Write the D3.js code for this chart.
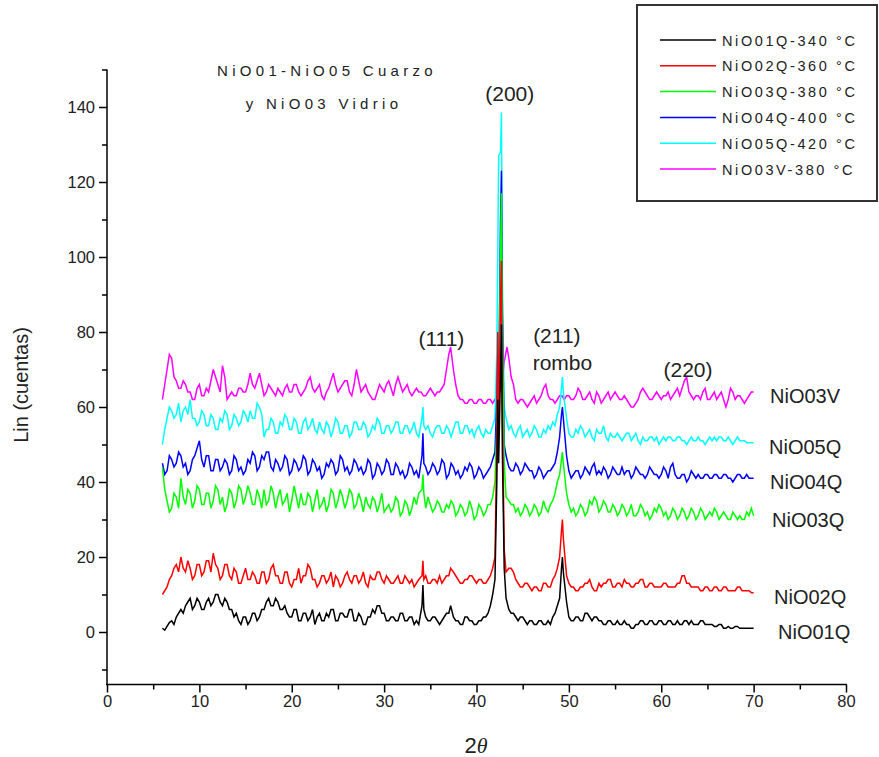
<!DOCTYPE html>
<html>
<head>
<meta charset="utf-8">
<script src="https://cdn.jsdelivr.net/npm/d3@7"></script>
<style>
  body { margin: 0; background: #fff; }
  svg { display: block; }
  text { font-family: "Liberation Sans", Arial, sans-serif; fill: #222; }
</style>
</head>
<body>
<svg id="chart" width="879" height="757"></svg>
<script>
// ---- Diffractogram data: counts sampled every 0.25° of 2θ from 6° to 70° ----
const thetaStart = 6;
const thetaStep = 0.25;

const nio01Q = [
  1, 0.5, 1.5, 2.5, 3, 2, 4, 5, 6, 5, 7, 8, 9, 6, 7, 9, 8, 6, 6, 8,
  9, 7, 8, 10, 10, 8, 7, 9, 8, 6, 6, 4, 5, 3, 2, 4, 4, 2, 3, 5,
  5, 3, 4, 6, 6, 8, 9, 7, 7, 9, 8, 6, 6, 7, 5, 4, 4, 6, 6, 3,
  3, 5, 5, 3, 4, 6, 2, 4, 5, 3, 3, 5, 4, 6, 6, 3, 3, 5, 5, 4,
  4, 6, 6, 3, 3, 5, 4, 2, 2, 4, 4, 6, 5, 7, 7, 5, 5, 3, 3, 4,
  4, 3, 3, 5, 5, 3, 3, 4, 4, 2, 3, 2, 2, 4, 4, 3, 3, 4, 4, 3,
  2, 3, 4, 5, 5, 3, 4, 3, 3, 2, 2, 4, 4, 3, 3, 2, 2, 3, 3, 4,
  4, 5, 7, 10, 14, 30, 35, 60, 17, 9, 6, 5, 5, 4, 3, 4, 4, 3, 2, 3,
  3, 2, 2, 3, 3, 2, 2, 3, 2, 4, 5, 7, 9, 20, 12, 8, 4, 3, 3, 4,
  4, 3, 3, 5, 5, 4, 3, 4, 4, 3, 3, 2, 2, 3, 3, 2, 2, 3, 2, 2,
  3, 2, 2, 1, 1, 2, 2, 3, 3, 2, 2, 3, 3, 2, 2, 3, 3, 2, 2, 3,
  3, 2, 2, 3, 2, 2, 3, 3, 2, 3, 2, 2, 2, 3, 3, 2, 2, 2, 2, 1.5,
  1.5, 2, 2, 1, 1, 1.5, 1, 1, 1.5, 1.5, 1, 1, 1, 1, 1, 1, 1
];
const nio02Q = [
  10, 11, 12, 14, 15, 17, 18, 16, 20, 17, 16, 19, 17, 14, 15, 18, 18, 15, 16, 19,
  19, 16, 21, 18, 17, 14, 15, 18, 18, 15, 14, 17, 16, 13, 13, 15, 17, 14, 14, 16,
  15, 13, 13, 16, 16, 13, 14, 17, 18, 15, 15, 13, 13, 16, 16, 13, 12, 14, 14, 17,
  13, 15, 15, 18, 17, 14, 14, 12, 13, 15, 15, 13, 14, 16, 12, 15, 14, 12, 13, 15,
  16, 14, 13, 15, 15, 13, 14, 16, 13, 12, 15, 14, 14, 16, 16, 14, 13, 15, 14, 13,
  13, 14, 15, 13, 13, 15, 14, 13, 14, 12, 13, 14, 14, 16, 15, 13, 13, 14, 14, 13,
  15, 13, 14, 15, 15, 16, 16, 15, 14, 13, 13, 14, 14, 15, 15, 14, 13, 14, 14, 13,
  13, 14, 15, 17, 20, 40, 45, 70, 22, 19, 17, 17, 16, 14, 13, 12, 12, 13, 13, 12,
  11, 12, 12, 11, 11, 13, 13, 12, 12, 14, 15, 17, 20, 28, 22, 15, 13, 12, 12, 11,
  11, 12, 12, 13, 13, 14, 12, 11, 11, 13, 12, 13, 13, 14, 14, 12, 12, 13, 13, 12,
  14, 13, 13, 12, 12, 13, 13, 14, 14, 12, 12, 13, 13, 12, 12, 12, 12, 13, 13, 12,
  12, 12, 12, 13, 13, 15, 15, 13, 13, 12, 12, 12, 12, 11, 11, 12, 12, 11, 11, 12,
  12, 11, 11, 12, 12, 11, 11, 11, 11, 12, 12, 11, 11, 11, 11, 10.5, 10.5
];
const nio03Q = [
  44, 38, 35, 32, 33, 37, 36, 33, 41, 36, 34, 38, 37, 33, 35, 39, 38, 34, 34, 37,
  37, 33, 35, 39, 38, 34, 36, 32, 34, 38, 37, 33, 35, 39, 38, 34, 36, 39, 37, 34,
  34, 38, 36, 33, 38, 34, 35, 39, 37, 33, 36, 38, 34, 35, 37, 32, 35, 39, 36, 33,
  37, 34, 34, 37, 36, 32, 35, 38, 33, 34, 36, 32, 34, 38, 37, 33, 35, 38, 36, 33,
  35, 38, 37, 33, 34, 37, 35, 32, 36, 34, 33, 36, 35, 32, 34, 37, 32, 33, 34, 32,
  33, 36, 35, 31, 32, 35, 34, 31, 33, 36, 34, 37, 35, 32, 33, 36, 34, 32, 33, 35,
  34, 32, 32, 34, 33, 35, 34, 31, 32, 34, 33, 31, 32, 35, 33, 30, 31, 34, 33, 31,
  32, 34, 34, 36, 40, 55, 70, 95, 45, 38, 35, 34, 34, 32, 33, 31, 32, 34, 33, 31,
  32, 34, 33, 31, 32, 35, 33, 32, 34, 35, 37, 40, 42, 46, 40, 37, 34, 32, 33, 31,
  32, 34, 33, 31, 32, 35, 34, 36, 35, 32, 33, 35, 34, 32, 32, 34, 33, 31, 32, 34,
  33, 31, 32, 34, 31, 31, 32, 34, 33, 31, 32, 30, 31, 33, 32, 34, 33, 31, 32, 30,
  31, 33, 32, 30, 31, 33, 32, 30, 31, 33, 32, 30, 31, 33, 32, 30, 31, 32, 31, 33,
  32, 30, 31, 32, 31, 30, 30, 32, 31, 30, 31, 30, 30, 32, 31, 33, 31
];
const nio04Q = [
  45, 42, 43, 47, 46, 44, 45, 48, 47, 44, 45, 42, 43, 46, 47, 49, 51, 46, 44, 47,
  47, 43, 43, 46, 46, 43, 44, 46, 45, 42, 43, 47, 46, 43, 44, 42, 43, 46, 45, 48,
  47, 43, 44, 47, 46, 48, 48, 44, 43, 46, 45, 43, 44, 47, 46, 42, 43, 46, 45, 43,
  44, 47, 46, 42, 43, 46, 45, 43, 44, 41, 42, 45, 44, 46, 45, 42, 43, 47, 46, 43,
  44, 42, 43, 46, 45, 43, 44, 42, 43, 46, 45, 41, 42, 45, 44, 42, 43, 46, 45, 42,
  42, 45, 44, 42, 43, 41, 42, 45, 44, 42, 43, 41, 42, 45, 44, 42, 43, 45, 44, 42,
  43, 46, 45, 41, 42, 45, 44, 42, 43, 41, 42, 44, 43, 45, 44, 41, 42, 44, 43, 41,
  42, 43, 44, 46, 48, 62, 60, 110, 50, 46, 44, 43, 43, 45, 44, 42, 43, 45, 44, 43,
  43, 41, 42, 44, 43, 41, 42, 43, 43, 44, 45, 48, 52, 58, 52, 47, 43, 41, 42, 43,
  43, 41, 42, 44, 43, 42, 44, 45, 42, 43, 42, 44, 43, 41, 42, 44, 43, 42, 42, 44,
  42, 43, 43, 41, 42, 44, 43, 42, 42, 41, 42, 44, 43, 42, 42, 41, 42, 44, 43, 41,
  44, 45, 42, 41, 41, 42, 42, 40, 41, 43, 42, 41, 42, 41, 41, 42, 42, 41, 41, 42,
  42, 41, 41, 42, 42, 41, 41, 40, 41, 42, 42, 41, 41, 42, 41, 41, 41
];
const nio05Q = [
  50, 54, 57, 60, 59, 57, 58, 61, 56, 59, 60, 58, 62, 57, 57, 55, 56, 59, 58, 55,
  55, 58, 57, 54, 54, 57, 56, 59, 58, 54, 55, 58, 57, 55, 56, 59, 58, 56, 59, 57,
  57, 61, 60, 58, 52, 54, 54, 57, 56, 53, 53, 56, 55, 58, 57, 54, 54, 57, 56, 53,
  53, 56, 57, 54, 55, 57, 54, 53, 56, 54, 53, 56, 55, 52, 54, 57, 56, 53, 53, 55,
  55, 52, 53, 56, 56, 54, 54, 56, 55, 52, 53, 55, 54, 57, 56, 53, 53, 55, 55, 53,
  54, 56, 56, 53, 53, 55, 55, 53, 54, 56, 53, 52, 55, 54, 54, 55, 53, 52, 54, 55,
  55, 53, 53, 55, 54, 52, 54, 56, 56, 53, 53, 55, 55, 53, 54, 52, 54, 55, 53, 52,
  54, 53, 53, 55, 57, 75, 127, 120, 60, 56, 54, 55, 53, 52, 54, 55, 52, 53, 54, 52,
  53, 55, 54, 52, 52, 54, 53, 55, 54, 56, 55, 58, 60, 65, 62, 57, 53, 52, 52, 54,
  53, 55, 54, 52, 53, 54, 52, 51, 54, 53, 53, 55, 52, 51, 53, 52, 52, 53, 52, 51,
  52, 53, 53, 51, 52, 53, 51, 50, 52, 51, 51, 52, 52, 51, 52, 50, 51, 52, 51, 52,
  52, 51, 51, 52, 52, 51, 51, 50, 51, 52, 51, 51, 52, 51, 51, 50, 51, 52, 51, 52,
  51, 52, 52, 51, 51, 52, 51, 50, 51, 52, 51, 51, 51, 50.5, 50.5, 50.5, 50.5
];
const nio03V = [
  62, 66, 70, 74, 73, 68, 67, 65, 65, 67, 66, 64, 64, 62, 62, 65, 66, 63, 63, 65,
  64, 67, 70, 68, 66, 64, 71, 68, 62, 63, 64, 63, 63, 65, 65, 64, 64, 66, 69, 66,
  65, 67, 69, 66, 63, 64, 66, 65, 64, 63, 65, 64, 63, 65, 66, 64, 64, 66, 66, 64,
  63, 64, 65, 67, 68, 65, 64, 65, 66, 63, 62, 64, 65, 67, 69, 66, 64, 65, 66, 67,
  67, 64, 63, 66, 70, 67, 64, 65, 66, 64, 63, 62, 62, 64, 66, 65, 64, 66, 67, 65,
  63, 66, 68, 66, 64, 65, 66, 64, 63, 64, 65, 64, 64, 63, 63, 64, 65, 64, 63, 64,
  64, 65, 66, 70, 74, 76, 70, 66, 63, 62, 62, 61, 61, 62, 62, 61, 61, 62, 62, 61,
  61, 62, 62, 61, 62, 63, 64, 66, 72, 76, 73, 68, 66, 62, 61, 62, 62, 61, 60, 61,
  62, 63, 61, 62, 63, 65, 66, 63, 62, 62, 61, 62, 63, 63, 62, 63, 63, 62, 62, 63,
  65, 64, 62, 62, 63, 64, 62, 61, 64, 63, 61, 62, 63, 64, 62, 63, 64, 63, 62, 62,
  63, 62, 61, 60, 60, 61, 62, 64, 65, 64, 63, 62, 62, 63, 64, 63, 62, 63, 63, 64,
  62, 63, 64, 65, 63, 65, 67, 68, 64, 63, 62, 63, 63, 62, 64, 65, 62, 62, 63, 64,
  62, 63, 64, 62, 60, 62, 65, 64, 62, 63, 63, 62, 61, 62, 63, 64, 64
];

// Narrow reflections read between the regular samples: [2θ, counts]
const peaks01Q = [[34.1, 7], [34.2, 12.5], [34.3, 6], [37.2, 7],
  [42.2, 40], [42.3, 62], [42.4, 45], [42.6, 70], [42.7, 82], [42.8, 48], [43.2, 9],
  [49.2, 17], [49.3, 20], [49.4, 16]];
const peaks02Q = [[34.1, 15], [34.2, 19], [34.3, 14], [37.2, 17],
  [42.2, 50], [42.3, 80], [42.4, 55], [42.6, 88], [42.7, 99], [42.8, 60], [43.2, 16],
  [49.2, 27], [49.3, 30], [49.4, 25]];
const peaks03Q = [[34.1, 38], [34.2, 42], [34.3, 37],
  [42.2, 55], [42.3, 68], [42.4, 58], [42.6, 100], [42.7, 117], [42.8, 80], [43.2, 36],
  [49.2, 46], [49.3, 48], [49.4, 45]];
const peaks04Q = [[34.1, 47], [34.2, 53], [34.3, 45],
  [42.2, 62], [42.3, 74], [42.4, 65], [42.6, 110], [42.7, 123], [42.8, 85], [43.2, 47],
  [49.2, 58], [49.3, 60], [49.4, 57]];
const peaks05Q = [[34.1, 57], [34.2, 60], [34.3, 55],
  [42.2, 75], [42.3, 100], [42.4, 127], [42.6, 128], [42.7, 138.5], [42.8, 95], [43.2, 57],
  [49.2, 65], [49.3, 68], [49.4, 64]];
const peaks03V = [[37.2, 76], [43.3, 76]];

// Legend entries and end-of-trace sample labels
const legendLabels = ["NiO01Q-340 °C", "NiO02Q-360 °C", "NiO03Q-380 °C",
                      "NiO04Q-400 °C", "NiO05Q-420 °C", "NiO03V-380 °C"];
const sampleLabels = ["NiO01Q", "NiO02Q", "NiO03Q", "NiO04Q", "NiO05Q", "NiO03V"];

// Reflection annotations: [2θ, counts, text]
const reflections = [[43.6, 141.5, "(200)"], [36.2, 76.4, "(111)"], [48.7, 77.2, "(211)"],
                     [49.3, 70, "rombo"], [62.9, 67.9, "(220)"]];

// Axis ticks
const xTickLabels = [0, 10, 20, 30, 40, 50, 60, 70, 80];
const xMinorTicks = [5, 15, 25, 35, 45, 55, 65, 75];
const yTickLabels = [0, 20, 40, 60, 80, 100, 120, 140];
const yMinorTicks = [-10, 10, 30, 50, 70, 90, 110, 130, 150];

// ---- Styling ----
const colors = ["#000000", "#ff0000", "#00ff00", "#0000ff", "#00ffff", "#ff00ff"];
const labelX = [778, 774, 772, 770, 769, 770];

const svg = d3.select("#chart");
const x = d3.scaleLinear().domain([0, 80]).range([107, 846]);
const y = d3.scaleLinear().domain([-14, 150]).range([684.5, 69.5]);

const gridSeries = [nio01Q, nio02Q, nio03Q, nio04Q, nio05Q, nio03V];
const peakSeries = [peaks01Q, peaks02Q, peaks03Q, peaks04Q, peaks05Q, peaks03V];

// Regular samples that sit right on a resolved reflection give way to the peak readings
const traces = gridSeries.map((vals, k) => {
  const peaks = peakSeries[k];
  const pts = vals
    .map((v, i) => [thetaStart + i * thetaStep, v])
    .filter(p => !peaks.some(q => Math.abs(q[0] - p[0]) < 0.11))
    .concat(peaks);
  pts.sort((a, b) => a[0] - b[0]);
  return pts;
});

const line = d3.line().x(d => x(d[0])).y(d => y(d[1]));

// Glass sample first, then quartz samples from highest to lowest temperature
const drawOrder = [5, 4, 3, 2, 1, 0];
svg.append("g").selectAll("path")
  .data(drawOrder)
  .join("path")
  .attr("d", k => line(traces[k]))
  .attr("fill", "none")
  .attr("stroke", k => colors[k])
  .attr("stroke-width", 1.5)
  .attr("stroke-linejoin", "miter");

// ---- Axes ----
const axisG = svg.append("g");
axisG.append("g").attr("transform", `translate(0,${y(-14)})`)
  .call(d3.axisBottom(x).tickValues(xTickLabels).tickSize(8).tickPadding(3).tickFormat(d3.format("d")));
axisG.append("g").attr("transform", `translate(0,${y(-14)})`)
  .call(d3.axisBottom(x).tickValues(xMinorTicks).tickSize(5).tickFormat(""));
axisG.append("g").attr("transform", `translate(${x(0)},0)`)
  .call(d3.axisLeft(y).tickValues(yTickLabels).tickSize(8).tickPadding(4).tickFormat(d3.format("d")));
axisG.append("g").attr("transform", `translate(${x(0)},0)`)
  .call(d3.axisLeft(y).tickValues(yMinorTicks).tickSize(5).tickFormat(""));

axisG.selectAll(".domain").remove();
axisG.selectAll(".tick line").attr("stroke", "#000").attr("stroke-width", 1.5);
axisG.selectAll(".tick text")
  .attr("font-size", 16.5)
  .attr("font-family", "'Liberation Sans', Arial, sans-serif")
  .attr("fill", "#222");

axisG.append("line")
  .attr("x1", x(0) - 1).attr("x2", x(80) + 0.75)
  .attr("y1", y(-14)).attr("y2", y(-14))
  .attr("stroke", "#000").attr("stroke-width", 1.5);
axisG.append("line")
  .attr("x1", x(0)).attr("x2", x(0))
  .attr("y1", y(150)).attr("y2", y(-14))
  .attr("stroke", "#000").attr("stroke-width", 1.5);

// Axis titles
svg.append("text")
  .attr("transform", `translate(28,${(y(150) + y(-14)) / 2 + 8}) rotate(-90)`)
  .attr("text-anchor", "middle")
  .attr("font-size", 20)
  .text("Lin (cuentas)");

const xt = svg.append("text")
  .attr("x", 476).attr("y", 753)
  .attr("text-anchor", "middle")
  .attr("font-size", 22);
xt.append("tspan").text("2");
xt.append("tspan").attr("font-style", "italic").attr("font-family", "'Liberation Serif', serif").text("θ");

// Header note
svg.append("text").attr("x", 327).attr("y", 76).attr("text-anchor", "middle")
  .attr("font-size", 15).attr("letter-spacing", 4.3).text("NiO01-NiO05 Cuarzo");
svg.append("text").attr("x", 324).attr("y", 109).attr("text-anchor", "middle")
  .attr("font-size", 15).attr("letter-spacing", 4.3).text("y NiO03 Vidrio");

// Reflection annotations
svg.append("g").selectAll("text")
  .data(reflections)
  .join("text")
  .attr("x", d => x(d[0]))
  .attr("y", d => y(d[1]))
  .attr("text-anchor", "middle")
  .attr("font-size", 21)
  .text(d => d[2]);

// Sample names next to the end of each trace
svg.append("g").selectAll("text")
  .data(traces)
  .join("text")
  .attr("x", (d, k) => labelX[k])
  .attr("y", d => y(d[d.length - 1][1]) + 11)
  .attr("font-size", 20)
  .text((d, k) => sampleLabels[k]);

// ---- Legend ----
const lg = svg.append("g");
lg.append("rect")
  .attr("x", 637).attr("y", 5).attr("width", 240).attr("height", 196)
  .attr("fill", "#fff").attr("stroke", "#333").attr("stroke-width", 2);
const rows = lg.selectAll("g.row").data(legendLabels).join("g")
  .attr("transform", (d, i) => `translate(0,${40 + i * 25.8})`);
rows.append("line")
  .attr("x1", 660).attr("x2", 716).attr("y1", 0).attr("y2", 0)
  .attr("stroke", (d, i) => colors[i]).attr("stroke-width", 1.5);
rows.append("text")
  .attr("x", 722).attr("y", 5.5)
  .attr("font-size", 14.5).attr("letter-spacing", 2.6)
  .text(d => d);
</script>
</body>
</html>
